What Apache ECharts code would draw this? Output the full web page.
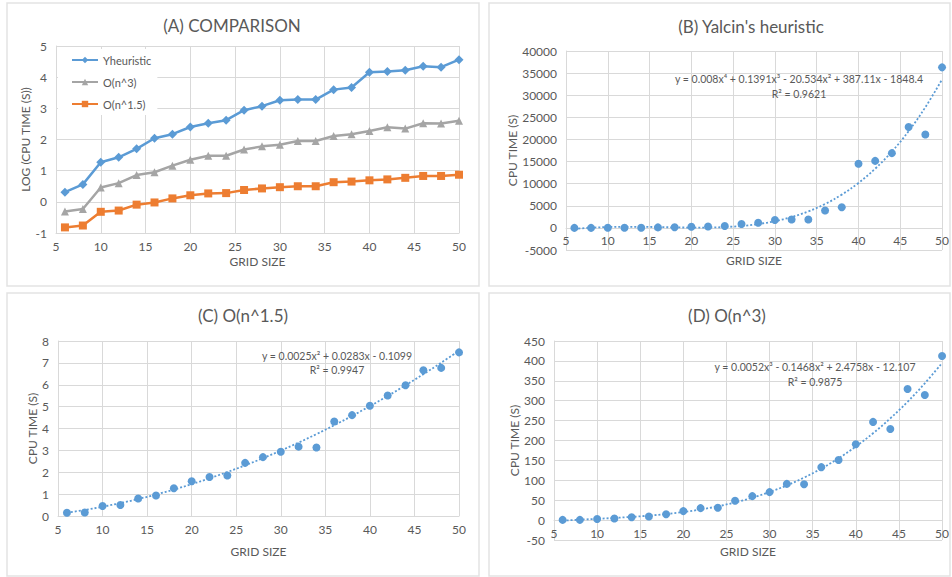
<!DOCTYPE html>
<html>
<head>
<meta charset="utf-8">
<script src="https://cdn.jsdelivr.net/npm/echarts@6/dist/echarts.min.js"></script>
<style>
html,body{margin:0;padding:0;background:#fff;}
#main{width:952px;height:577px;}
</style>
</head>
<body>
<div id="main"></div>
<script>
// ---- data ----
var gridSize = [6, 8, 10, 12, 14, 16, 18, 20, 22, 24, 26, 28, 30, 32, 34, 36, 38, 40, 42, 44, 46, 48, 50];

// (A) log10 of CPU time
var logYheuristic = [0.31, 0.56, 1.27, 1.43, 1.70, 2.04, 2.17, 2.40, 2.52, 2.62, 2.94, 3.07, 3.26, 3.28, 3.28, 3.60, 3.67, 4.16, 4.18, 4.22, 4.35, 4.32, 4.56];
var logOn3 = [-0.31, -0.23, 0.46, 0.60, 0.86, 0.95, 1.16, 1.35, 1.48, 1.48, 1.68, 1.78, 1.83, 1.95, 1.95, 2.11, 2.17, 2.27, 2.39, 2.35, 2.52, 2.51, 2.60];
var logOn15 = [-0.82, -0.76, -0.32, -0.28, -0.09, -0.02, 0.11, 0.21, 0.27, 0.28, 0.38, 0.43, 0.47, 0.50, 0.50, 0.63, 0.65, 0.69, 0.72, 0.77, 0.83, 0.83, 0.87];

// (B) Yalcin's heuristic CPU time (s)
var cpuYalcin = [2, 4, 19, 27, 50, 110, 148, 251, 331, 417, 870, 1175, 1800, 1900, 1900, 3950, 4650, 14500, 15150, 16900, 22800, 21100, 36300];
// (C) O(n^1.5) CPU time (s)
var cpuOn15 = [0.15, 0.16, 0.46, 0.50, 0.80, 0.94, 1.27, 1.59, 1.78, 1.85, 2.43, 2.69, 2.94, 3.17, 3.13, 4.32, 4.61, 5.04, 5.51, 5.98, 6.66, 6.77, 7.48];
// (D) O(n^3) CPU time (s)
var cpuOn3 = [0.5, 0.6, 2.9, 4.0, 7.2, 8.9, 14.5, 22.6, 30, 31, 48.5, 60.2, 70.2, 91, 90, 133, 151, 190.6, 246.7, 229, 329.4, 314.4, 412.2];

// polynomial trendline coefficients shown on the chart (highest power first)
var trendYalcin = [0.008, 0.1391, -20.534, 387.11, -1848.4];
var trendOn15 = [0.0025, 0.0283, -0.1099];
var trendOn3 = [0.0052, -0.1468, 2.4758, -12.107];

var eqYalcin = 'y = 0.008x\u2074 + 0.1391x\u00b3 - 20.534x\u00b2 + 387.11x - 1848.4';
var r2Yalcin = 'R\u00b2 = 0.9621';
var eqOn15 = 'y = 0.0025x\u00b2 + 0.0283x - 0.1099';
var r2On15 = 'R\u00b2 = 0.9947';
var eqOn3 = 'y = 0.0052x\u00b3 - 0.1468x\u00b2 + 2.4758x - 12.107';
var r2On3 = 'R\u00b2 = 0.9875';

var titles = ['(A) COMPARISON', "(B) Yalcin's heuristic", '(C) O(n^1.5)', '(D) O(n^3)'];
var seriesNamesA = ['Yheuristic', 'O(n^3)', 'O(n^1.5)'];

// ---- helpers ----
function pairs(xs, ys) { return xs.map(function (x, i) { return [x, ys[i]]; }); }
function polyAt(c, x) { var v = 0; for (var i = 0; i < c.length; i++) { v = v * x + c[i]; } return v; }
function trend(xs, c) { return xs.map(function (x) { return [x, polyAt(c, x)]; }); }

var FONT = 'Lato, "Open Sans", sans-serif';
var TXT = '#595959';
var GRIDC = '#d9d9d9';
var BLUE = '#5b9bd5', GRAY = '#a5a5a5', ORANGE = '#ed7d31';
function plain(v) { return String(v); }

function xAxis(gi, offset, nameGap) {
  return {
    type: 'value', gridIndex: gi, min: 5, max: 50, interval: 5, offset: offset,
    name: 'GRID SIZE', nameLocation: 'middle', nameGap: nameGap,
    nameTextStyle: { color: TXT, fontSize: 12, fontFamily: FONT },
    axisLine: { onZero: false, lineStyle: { color: GRIDC } },
    axisTick: { show: false },
    axisLabel: { color: TXT, fontSize: 12, fontFamily: FONT, margin: 7, formatter: plain },
    splitLine: { show: true, lineStyle: { color: GRIDC } }
  };
}
function yAxis(gi, min, max, interval, name, nameGap) {
  return {
    type: 'value', gridIndex: gi, min: min, max: max, interval: interval,
    name: name, nameLocation: 'middle', nameGap: nameGap,
    nameTextStyle: { color: TXT, fontSize: 12, fontFamily: FONT },
    axisLine: { show: true, lineStyle: { color: GRIDC } },
    axisTick: { show: false },
    axisLabel: { color: TXT, fontSize: 12, fontFamily: FONT, margin: 9, formatter: plain },
    splitLine: { show: true, lineStyle: { color: GRIDC } }
  };
}
function txt(x, y, s, size) {
  return { type: 'text', silent: true, z: 100, style: { x: x, y: y, text: s, fill: TXT, font: size + 'px ' + FONT, textAlign: 'center', textVerticalAlign: 'middle' } };
}
function frame(x, y, w, h) {
  return { type: 'rect', silent: true, z: -10, shape: { x: x, y: y, width: w, height: h }, style: { fill: 'none', stroke: '#e3e3e3', lineWidth: 1.5 } };
}

var chart = echarts.init(document.getElementById('main'), null, { renderer: 'svg' });
var option = {
  backgroundColor: '#ffffff',
  animation: false,
  textStyle: { fontFamily: FONT },
  grid: [
    { left: 56, right: 493, top: 46, bottom: 344 },
    { left: 566, right: 9, top: 51, bottom: 327 },
    { left: 58, right: 493, top: 341, bottom: 61 },
    { left: 554, right: 9, top: 341, bottom: 37 }
  ],
  xAxis: [ xAxis(0, 0, 22), xAxis(1, -22.1, 27), xAxis(2, 0, 29), xAxis(3, -19.9, 25) ],
  yAxis: [
    yAxis(0, -1, 5, 1, 'LOG (CPU TIME (S))', 23),
    yAxis(1, -5000, 40000, 5000, 'CPU TIME (S)', 44),
    yAxis(2, 0, 8, 1, 'CPU TIME (S)', 20),
    yAxis(3, -50, 450, 50, 'CPU TIME (S)', 32)
  ],
  legend: {
    data: seriesNamesA, orient: 'vertical', left: 58, top: 49,
    padding: [4, 6, 4, 13], itemGap: 8, itemWidth: 26, itemHeight: 8,
    backgroundColor: '#ffffff',
    textStyle: { color: TXT, fontSize: 11, fontFamily: FONT, lineHeight: 14 }
  },
  graphic: [
    frame(7, 3, 472, 283),
    frame(489, 3, 461, 283),
    frame(7, 293, 472, 283),
    frame(489, 293, 461, 283),
    txt(232, 25, titles[0], 17),
    txt(751, 26, titles[1], 17),
    txt(243, 315, titles[2], 17),
    txt(727, 315, titles[3], 17),
    txt(799, 79, eqYalcin, 10.5),
    txt(799, 94, r2Yalcin, 10.5),
    txt(337, 356, eqOn15, 10.5),
    txt(337, 370, r2On15, 10.5),
    txt(815, 367, eqOn3, 10.5),
    txt(815, 382, r2On3, 10.5)
  ],
  series: [
    { name: seriesNamesA[0], type: 'line', xAxisIndex: 0, yAxisIndex: 0, data: pairs(gridSize, logYheuristic),
      symbol: 'diamond', symbolSize: 9, lineStyle: { color: BLUE, width: 2.5 }, itemStyle: { color: BLUE } },
    { name: seriesNamesA[1], type: 'line', xAxisIndex: 0, yAxisIndex: 0, data: pairs(gridSize, logOn3),
      symbol: 'triangle', symbolSize: 8, lineStyle: { color: GRAY, width: 2.5 }, itemStyle: { color: GRAY } },
    { name: seriesNamesA[2], type: 'line', xAxisIndex: 0, yAxisIndex: 0, data: pairs(gridSize, logOn15),
      symbol: 'rect', symbolSize: 8, lineStyle: { color: ORANGE, width: 2.5 }, itemStyle: { color: ORANGE } },

    { type: 'line', xAxisIndex: 1, yAxisIndex: 1, data: trend(gridSize, trendYalcin), smooth: 0.4, showSymbol: false, z: 1,
      lineStyle: { color: BLUE, width: 1.8, type: [2, 2] } },
    { type: 'scatter', xAxisIndex: 1, yAxisIndex: 1, data: pairs(gridSize, cpuYalcin), symbolSize: 8, itemStyle: { color: BLUE, opacity: 1 }, z: 3 },

    { type: 'line', xAxisIndex: 2, yAxisIndex: 2, data: trend(gridSize, trendOn15), smooth: 0.4, showSymbol: false, z: 1,
      lineStyle: { color: BLUE, width: 1.8, type: [2, 2] } },
    { type: 'scatter', xAxisIndex: 2, yAxisIndex: 2, data: pairs(gridSize, cpuOn15), symbolSize: 8, itemStyle: { color: BLUE, opacity: 1 }, z: 3 },

    { type: 'line', xAxisIndex: 3, yAxisIndex: 3, data: trend(gridSize, trendOn3), smooth: 0.4, showSymbol: false, z: 1,
      lineStyle: { color: BLUE, width: 1.8, type: [2, 2] } },
    { type: 'scatter', xAxisIndex: 3, yAxisIndex: 3, data: pairs(gridSize, cpuOn3), symbolSize: 8, itemStyle: { color: BLUE, opacity: 1 }, z: 3 }
  ]
};
chart.setOption(option);
</script>
</body>
</html>
